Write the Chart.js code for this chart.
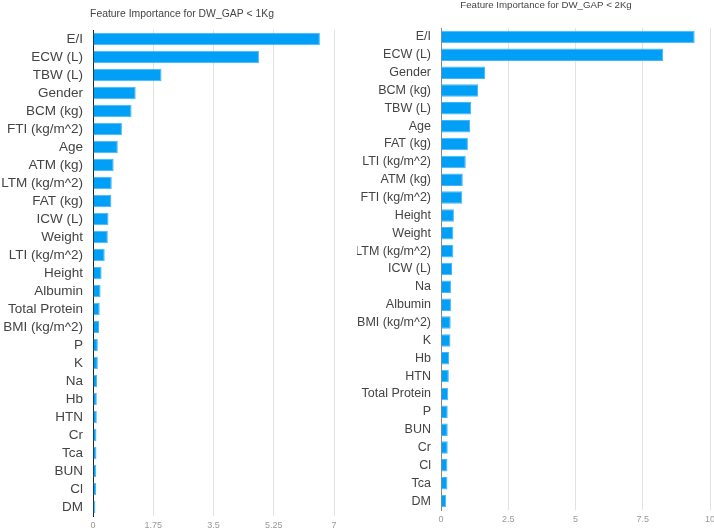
<!DOCTYPE html>
<html>
<head>
<meta charset="utf-8">
<script src="https://cdn.jsdelivr.net/npm/chart.js@4/dist/chart.umd.min.js"></script>
<style>
    html, body { margin: 0; padding: 0; background: #fff; overflow: hidden; }
    body { width: 714px; height: 528px; position: relative; }
    canvas { position: absolute; top: 0; }
</style>
</head>
<body>
<canvas id="leftChart" width="345" height="528" style="left:0"></canvas>
<canvas id="rightChart" width="357" height="528" style="left:357px"></canvas>
<script>
const leftTitle = 'Feature Importance for DW_GAP < 1Kg';
const leftLabels = ['E/I', 'ECW (L)', 'TBW (L)', 'Gender', 'BCM (kg)', 'FTI (kg/m^2)', 'Age', 'ATM (kg)',
    'LTM (kg/m^2)', 'FAT (kg)', 'ICW (L)', 'Weight', 'LTI (kg/m^2)', 'Height', 'Albumin', 'Total Protein',
    'BMI (kg/m^2)', 'P', 'K', 'Na', 'Hb', 'HTN', 'Cr', 'Tca', 'BUN', 'Cl', 'DM'];
const leftValues = [6.59, 4.82, 1.99, 1.24, 1.12, 0.84, 0.72, 0.60, 0.545, 0.535, 0.45, 0.43, 0.34, 0.25,
    0.22, 0.195, 0.175, 0.14, 0.14, 0.12, 0.11, 0.11, 0.10, 0.10, 0.095, 0.09, 0.07];
const leftTicks = [0, 1.75, 3.5, 5.25, 7];

const rightTitle = 'Feature Importance for DW_GAP < 2Kg';
const rightLabels = ['E/I', 'ECW (L)', 'Gender', 'BCM (kg)', 'TBW (L)', 'Age', 'FAT (kg)', 'LTI (kg/m^2)',
    'ATM (kg)', 'FTI (kg/m^2)', 'Height', 'Weight', 'LTM (kg/m^2)', 'ICW (L)', 'Na', 'Albumin',
    'BMI (kg/m^2)', 'K', 'Hb', 'HTN', 'Total Protein', 'P', 'BUN', 'Cr', 'Cl', 'Tca', 'DM'];
const rightValues = [9.43, 8.26, 1.64, 1.38, 1.12, 1.08, 1.00, 0.92, 0.81, 0.79, 0.48, 0.46, 0.46, 0.41,
    0.37, 0.37, 0.36, 0.35, 0.30, 0.29, 0.27, 0.25, 0.25, 0.25, 0.24, 0.24, 0.19];
const rightTicks = [0, 2.5, 5, 7.5, 10];

const FONT = "'Liberation Sans', Arial, sans-serif";

// the titles sit off the chart area's centre, so draw them ourselves
const offsetTitle = {
    id: 'offsetTitle',
    afterDraw(chart, args, opts) {
        const ctx = chart.ctx;
        ctx.save();
        ctx.font = `${opts.size}px ${FONT}`;
        ctx.fillStyle = '#444';
        ctx.textAlign = 'center';
        ctx.textBaseline = 'middle';
        ctx.fillText(opts.text, opts.x, opts.y);
        ctx.restore();
    }
};

function makeChart(canvasId, cfg) {
    const ctx = document.getElementById(canvasId).getContext('2d');
    return new Chart(ctx, {
        type: 'bar',
        data: {
            labels: cfg.labels,
            datasets: [{
                data: cfg.values,
                backgroundColor: '#019ff6',
                borderColor: '#45b6f9',
                borderWidth: 1,
                categoryPercentage: 1,
                barPercentage: 0.7
            }]
        },
        plugins: [offsetTitle],
        options: {
            indexAxis: 'y',
            responsive: false,
            animation: false,
            layout: {
                padding: { left: 0, right: cfg.padRight, top: cfg.padTop, bottom: 0 }
            },
            plugins: {
                legend: { display: false },
                tooltip: { enabled: false },
                title: { display: false },
                offsetTitle: {
                    text: cfg.title,
                    size: cfg.titleSize,
                    x: cfg.titleX,
                    y: cfg.titleY
                }
            },
            scales: {
                x: {
                    min: cfg.ticks[0],
                    max: cfg.ticks[cfg.ticks.length - 1],
                    afterBuildTicks: scale => {
                        scale.ticks = cfg.ticks.map(v => ({ value: v }));
                    },
                    afterFit: scale => {
                        scale.height = cfg.xHeight;
                        scale.paddingLeft = 0;
                        scale.paddingRight = 0;
                    },
                    grid: {
                        color: '#e2e2e2',
                        drawTicks: false
                    },
                    border: { display: false },
                    ticks: {
                        color: '#999',
                        padding: 4,
                        font: { family: FONT, size: 9 },
                        callback: value => String(value)
                    }
                },
                y: {
                    afterFit: scale => {
                        scale.width = cfg.yWidth;
                        scale.paddingTop = 0;
                        scale.paddingBottom = 0;
                    },
                    grid: { display: false, drawTicks: false },
                    border: { display: true, color: cfg.axisColor, width: 1 },
                    ticks: {
                        color: '#444',
                        padding: 10,
                        autoSkip: false,
                        font: { family: FONT, size: cfg.labelSize }
                    }
                }
            }
        }
    });
}

makeChart('leftChart', {
    title: leftTitle,
    labels: leftLabels,
    values: leftValues,
    ticks: leftTicks,
    padRight: 11,
    padTop: 30,
    titleSize: 10.4,
    titleX: 182,
    titleY: 14,
    xHeight: 12,
    yWidth: 93,
    axisColor: '#222',
    labelSize: 13.5
});

makeChart('rightChart', {
    title: rightTitle,
    labels: rightLabels,
    values: rightValues,
    ticks: rightTicks,
    padRight: 4,
    padTop: 28,
    titleSize: 9.7,
    titleX: 189,
    titleY: 5,
    xHeight: 18,
    yWidth: 84,
    axisColor: '#888',
    labelSize: 12.5
});
</script>
</body>
</html>
